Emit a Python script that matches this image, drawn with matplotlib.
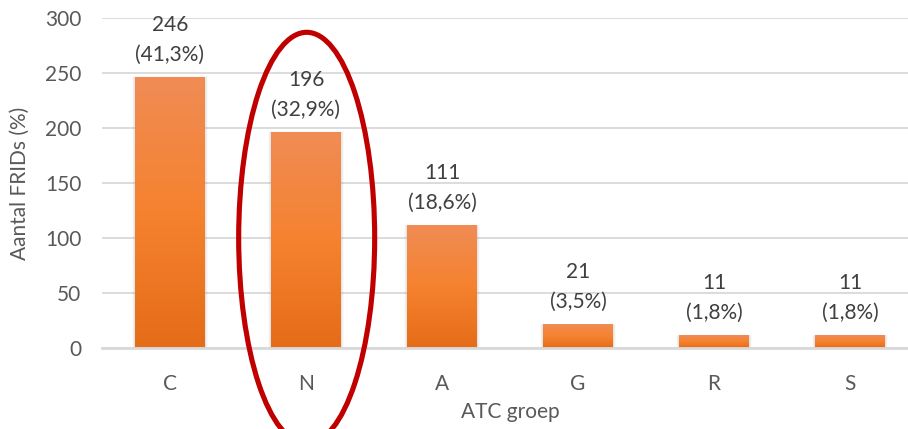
import matplotlib
matplotlib.use("Agg")
import matplotlib.pyplot as plt
import numpy as np
from matplotlib.colors import LinearSegmentedColormap
from matplotlib.patches import Ellipse

categories = ["C", "N", "A", "G", "R", "S"]
counts = [246, 196, 111, 21, 11, 11]
percent_labels = ["(41,3%)", "(32,9%)", "(18,6%)", "(3,5%)", "(1,8%)", "(1,8%)"]
y_ticks = [0, 50, 100, 150, 200, 250, 300]
highlight = "N"

plt.rcParams['font.family'] = ['Lato', 'DejaVu Sans']

W, H = 908, 429
fig = plt.figure(figsize=(W / 100, H / 100), dpi=100)
ax = fig.add_axes([102 / W, 81 / H, 816 / W, 330 / H])

x = np.arange(len(categories))
bars = ax.bar(x, counts, width=0.51, color='#F07E2E', edgecolor='none', zorder=2)

cmap = LinearSegmentedColormap.from_list("og", ["#E56C18", "#F5822F", "#F08C55"])
grad = np.linspace(0, 1, 256).reshape(-1, 1)
for b in bars:
    x0, y0 = b.get_x(), b.get_y()
    w, h = b.get_width(), b.get_height()
    # soft shadow
    for k, a in [(0.025, 0.04), (0.015, 0.06), (0.007, 0.08)]:
        ax.add_patch(plt.Rectangle((x0 - k, y0), w + 2 * k, h + k * 40,
                                   facecolor='#707070', alpha=a, edgecolor='none', zorder=1.5))
    ax.imshow(grad, extent=(x0, x0 + w, y0, y0 + h), origin='lower',
              cmap=cmap, aspect='auto', zorder=2.5, interpolation='bilinear')

for xi, c, p in zip(x, counts, percent_labels):
    ax.annotate(str(c), (xi, c), xytext=(0, 38), textcoords='offset points',
                ha='center', va='center', fontsize=15, color='#404040', zorder=4)
    ax.annotate(p, (xi, c), xytext=(0, 16.5), textcoords='offset points',
                ha='center', va='center', fontsize=15, color='#404040', zorder=4)

ax.set_xlim(-0.5, len(categories) - 0.5)
ax.set_ylim(0, 300)
ax.set_yticks(y_ticks)
ax.set_xticks(x)
ax.set_xticklabels(categories)
ax.tick_params(axis='both', length=0, labelsize=15, labelcolor='#595959')
ax.tick_params(axis='y', pad=15)
ax.tick_params(axis='x', pad=19)
ax.yaxis.grid(True, color='#D9D9D9', lw=1.3, zorder=0)
ax.set_axisbelow(True)
for s in ['top', 'right', 'left']:
    ax.spines[s].set_visible(False)
ax.spines['bottom'].set_color('#D9D9D9')
ax.spines['bottom'].set_linewidth(2)
ax.spines['bottom'].set_zorder(3)

ax.set_ylabel("Aantal FRIDs (%)", fontsize=15, color='#595959')
ax.yaxis.set_label_coords(-0.088, 0.5)
ax.set_xlabel("ATC groep", fontsize=15, color='#595959')
ax.xaxis.set_label_coords(0.5, -0.165)

hi = categories.index(highlight)
ell = Ellipse((hi + 0.005, 100), width=1.0, height=374, fill=False,
              edgecolor='#C00000', lw=3.7, clip_on=False, zorder=5)
ax.add_patch(ell)

fig.savefig("out.png", dpi=100)
